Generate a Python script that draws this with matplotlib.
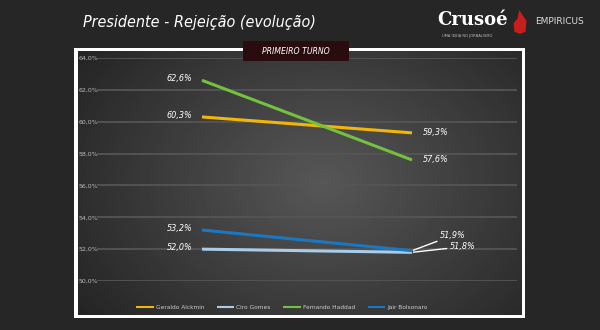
import numpy as np
import matplotlib.pyplot as plt
from matplotlib.patches import Rectangle, Polygon

# data
turnos = ['1', '2']
candidatos = ['Geraldo Alckmin', 'Ciro Gomes', 'Fernando Haddad', 'Jair Bolsonaro']
alckmin = [60.3, 59.3]
ciro = [52.0, 51.8]
haddad = [62.6, 57.6]
bolsonaro = [53.2, 51.9]
cores = ['#f2b705', '#a9cde8', '#72c23e', '#1a78c2']
yticks = [50, 52, 54, 56, 58, 60, 62, 64]

NARROW = dict(family='DejaVu Sans', stretch='condensed')

fig = plt.figure(figsize=(6, 3.3), dpi=100)
fig.patch.set_facecolor('#262626')

# white frame + gradient panel
frame = fig.add_axes([74/600, 1-318/330, 451/600, 270/330])
frame.set_xlim(0, 1); frame.set_ylim(0, 1)
frame.axis('off')
frame.add_patch(Rectangle((0, 0), 1, 1, facecolor='white', edgecolor='none'))
yy, xx = np.mgrid[0:1:200j, 0:1:300j]
r = np.sqrt(((xx-0.55)/0.75)**2 + ((yy-0.5)/0.95)**2)
grad = np.clip(1 - r, 0, 1)
frame.imshow(grad, extent=[0.008, 0.992, 0.012, 0.988], cmap='gray', vmin=-0.55, vmax=4.0,
             aspect='auto', zorder=2)

ax = fig.add_axes([97/600, 1-281/330, 420/600, 223/330])
ax.set_facecolor('none')
x = np.arange(len(turnos))
series = [alckmin, ciro, haddad, bolsonaro]
for vals, c, nome in zip(series, cores, candidatos):
    ax.plot(x, vals, color=c, lw=2.2, label=nome, solid_capstyle='butt', zorder=3)
ax.set_xlim(-0.5, 1.5)
ax.set_ylim(50, 64)
ax.set_yticks(yticks)
ax.set_yticklabels([f'{v:.1f}%'.replace('.', ',') for v in yticks], color='#bbbbbb', fontsize=4.5)
ax.tick_params(axis='y', length=0, pad=-1)
ax.set_xticks([])
ax.grid(axis='y', color='#555555', lw=1.3)
ax.set_axisbelow(True)
for s in ax.spines.values():
    s.set_visible(False)

def fmt(v):
    return f'{v:.1f}%'.replace('.', ',')

lab = dict(color='white', fontsize=6.5, style='italic', **NARROW)
for vals in [alckmin, ciro, haddad, bolsonaro]:
    ax.annotate(fmt(vals[0]), (0, vals[0]), xytext=(-7, 1), textcoords='offset points',
                ha='right', va='center', **lab)
for vals in [alckmin, haddad]:
    ax.annotate(fmt(vals[1]), (1, vals[1]), xytext=(8, 0), textcoords='offset points',
                ha='left', va='center', **lab)
ax.annotate(fmt(bolsonaro[1]), (1, bolsonaro[1]), xytext=(20, 11), textcoords='offset points',
            ha='left', va='center', arrowprops=dict(arrowstyle='-', color='white', lw=1,
            shrinkA=0, shrinkB=1), **lab)
ax.annotate(fmt(ciro[1]), (1, ciro[1]), xytext=(27, 4), textcoords='offset points',
            ha='left', va='center', arrowprops=dict(arrowstyle='-', color='white', lw=1,
            shrinkA=0, shrinkB=1), **lab)

leg = ax.legend(loc='upper center', bbox_to_anchor=(0.44, -0.085), ncol=4, frameon=False,
                fontsize=4.2, labelcolor='#cccccc', handlelength=3, columnspacing=2.2,
                handletextpad=0.3)
for h in leg.get_lines():
    h.set_linewidth(1.5)

# PRIMEIRO TURNO tab
tab = fig.add_axes([243/600, 1-61/330, 106/600, 20/330])
tab.axis('off')
tab.add_patch(Rectangle((0, 0), 1, 1, facecolor='#2b0c0e', edgecolor='none', transform=tab.transAxes))
tab.text(0.5, 0.5, 'PRIMEIRO TURNO', color='white', fontsize=6.2, style='italic',
         ha='center', va='center', **NARROW)

# header
fig.text(83/600, 1-22/330, 'Presidente - Rejeição (evolução)', color='white', fontsize=11.5,
         style='italic', ha='left', va='center', **NARROW)
fig.text(437/600, 1-20/330, 'Crusoé', color='white', fontsize=13, weight='bold',
         ha='left', va='center', family=['DejaVu Serif'])
fig.text(442/600, 1-36/330, 'UMA IDEIA NO JORNALISMO', color='#bbbbbb', fontsize=2.6,
         ha='left', va='center')
logo = fig.add_axes([512/600, 1-34/330, 16/600, 24/330])
logo.axis('off'); logo.set_xlim(0, 1); logo.set_ylim(0, 1)
logo.add_patch(Polygon([[0.45, 1.0], [0.9, 0.55], [0.85, 0.1], [0.5, 0.0], [0.15, 0.1],
                        [0.1, 0.45], [0.35, 0.65]], facecolor='#c81e1e', edgecolor='none'))
fig.text(535/600, 1-21/330, 'EMPIRICUS', color='#dddddd', fontsize=6.5,
         ha='left', va='center')

fig.savefig('out.png', dpi=100, facecolor=fig.get_facecolor())
